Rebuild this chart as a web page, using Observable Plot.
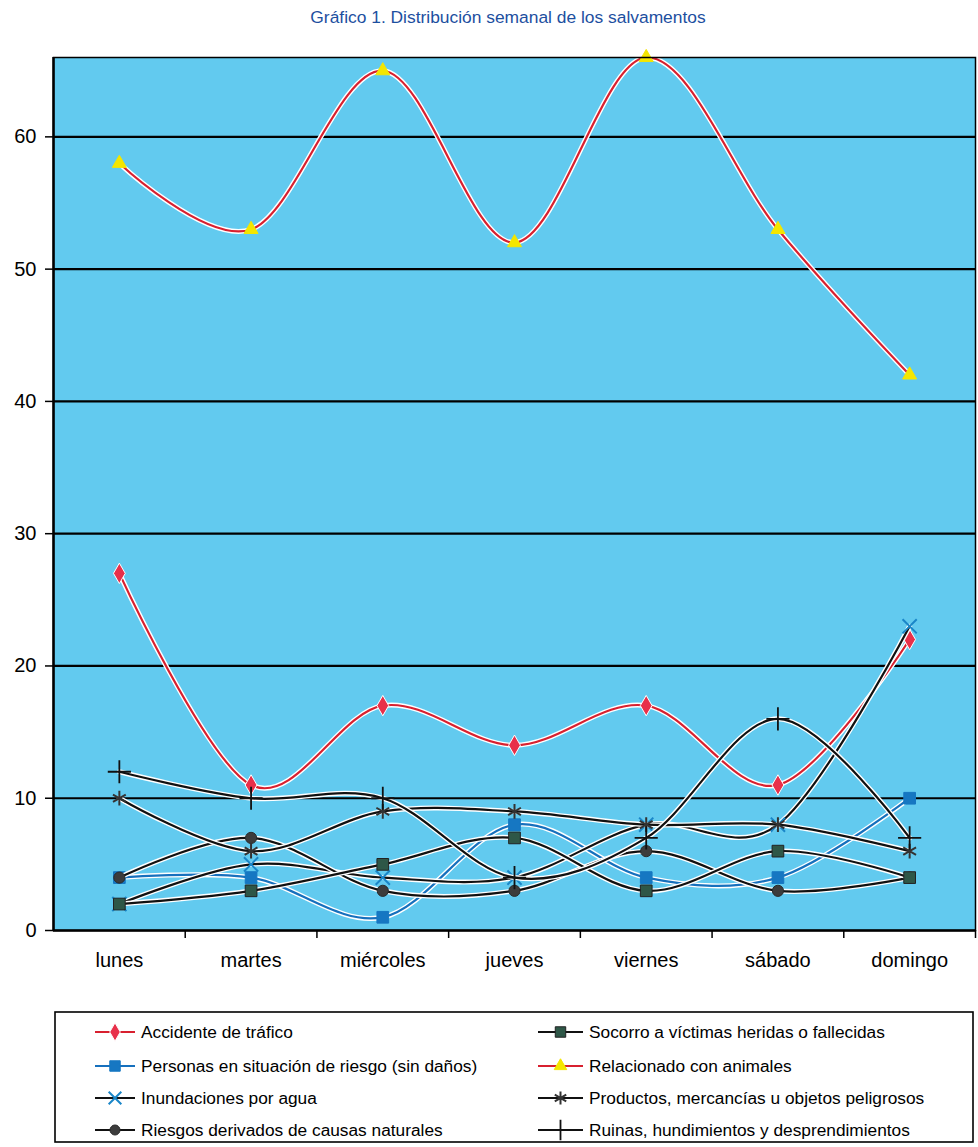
<!DOCTYPE html>
<html>
<head>
<meta charset="utf-8">
<script src="https://cdn.jsdelivr.net/npm/d3@7"></script>
<script src="https://cdn.jsdelivr.net/npm/@observablehq/plot@0.6"></script>
<style>
  html, body { margin: 0; padding: 0; background: #fff; }
  body { width: 978px; height: 1147px; overflow: hidden; font-family: "Liberation Sans", Arial, sans-serif; }
  #title { height: 35px; line-height: 34px; text-align: center; padding-left: 38px; box-sizing: border-box;
           font-family: "Liberation Sans Narrow", "Liberation Sans", Arial, sans-serif; font-size: 17.4px; color: #1d4f9f; }
  #chart svg { display: block; }
  #legend svg { display: block; }
</style>
</head>
<body>
<div id="title">Gráfico 1. Distribución semanal de los salvamentos</div>
<div id="chart"></div>
<div id="legend"></div>
<script>
// ---- data ----
const days = ["lunes", "martes", "miércoles", "jueves", "viernes", "sábado", "domingo"];
const accidente = [27, 11, 17, 14, 17, 11, 22];
const personas = [4, 4, 1, 8, 4, 4, 10];
const inundaciones = [2, 5, 4, 4, 8, 8, 23];
const naturales = [4, 7, 3, 3, 6, 3, 4];
const socorro = [2, 3, 5, 7, 3, 6, 4];
const animales = [58, 53, 65, 52, 66, 53, 42];
const productos = [10, 6, 9, 9, 8, 8, 6];
const ruinas = [12, 10, 10, 4, 7, 16, 7];
const yTicks = [0, 10, 20, 30, 40, 50, 60];
const seriesNames = [
  "Accidente de tráfico",
  "Personas en situación de riesgo (sin daños)",
  "Inundaciones por agua",
  "Riesgos derivados de causas naturales",
  "Socorro a víctimas heridas o fallecidas",
  "Relacionado con animales",
  "Productos, mercancías u objetos peligrosos",
  "Ruinas, hundimientos y desprendimientos"
];
const seriesValues = [accidente, personas, inundaciones, naturales, socorro, animales, productos, ruinas];

// ---- styles ----
const bg = "#62caef";
const styles = [
  {line: "#d8202f", symbol: "diamond", fill: "#e8304a", stroke: "#ffffff", r: 6.2, sw: 1},
  {line: "#1670bd", symbol: "square", fill: "#1677c2", stroke: "#1677c2", r: 6.6, sw: 1},
  {line: "#111111", symbol: "times", fill: "none", stroke: "#1a86c8", r: 6.5, sw: 2},
  {line: "#111111", symbol: "circle", fill: "#3c3c3c", stroke: "#2a2a2a", r: 5.6, sw: 1},
  {line: "#111111", symbol: "square", fill: "#2e5747", stroke: "#222", r: 6.6, sw: 1},
  {line: "#d8202f", symbol: "triangle", fill: "#f4e600", stroke: "#f4e600", r: 5.2, sw: 1},
  {line: "#111111", symbol: "asterisk", fill: "none", stroke: "#333333", r: 7, sw: 2},
  {line: "#111111", symbol: "plus", fill: "none", stroke: "#111111", r: 7.5, sw: 1.8}
];

const rows = seriesNames.map((name, s) => days.map((d, i) => ({series: name, i, day: d, value: seriesValues[s][i]})));
const curve = d3.curveCardinal.tension(0);

const marks = [
  Plot.frame({fill: bg}),
  Plot.gridY(yTicks.slice(1), {stroke: "#000", strokeOpacity: 1, strokeWidth: 2.2}),
  Plot.ruleY([0], {stroke: "#000", strokeWidth: 2.5}),
  Plot.axisY(yTicks, {tickSize: 8, tickPadding: 9, fontSize: 20, stroke: "#000", strokeWidth: 1.5, label: null}),
  Plot.axisX(days.map((d, i) => i + 0.5), {tickSize: 8, tickFormat: () => "", stroke: "#000", strokeWidth: 1.5, label: null}),
  Plot.axisX(days.map((d, i) => i), {tickSize: 0, tickPadding: 22, tickFormat: i => days[i], fontSize: 20, label: null})
];
rows.forEach((data, s) => {
  const st = styles[s];
  marks.push(Plot.line(data, {x: "i", y: "value", curve, stroke: "#ffffff", strokeWidth: 5, clip: true}));
  marks.push(Plot.line(data, {x: "i", y: "value", curve, stroke: st.line, strokeWidth: 2.2, clip: true}));
  marks.push(Plot.dot(data, {x: "i", y: "value", symbol: () => st.symbol, r: st.r, fill: st.fill, stroke: st.stroke, strokeWidth: st.sw}));
});
marks.push(Plot.frame({stroke: "#000", strokeWidth: 1.5}));
marks.push(Plot.ruleX([-0.5], {stroke: "#000", strokeWidth: 2.5}));

const chart = Plot.plot({
  width: 978,
  height: 965,
  marginLeft: 53,
  marginRight: 3,
  marginTop: 22,
  marginBottom: 70,
  style: {fontFamily: "'Liberation Sans', Arial, sans-serif", background: "#fff", color: "#000"},
  x: {domain: [-0.5, 6.5], axis: null},
  y: {domain: [0, 66], axis: null},
  marks
});
document.getElementById("chart").appendChild(chart);

// ---- legend ----
const lw = 978, lh = 147;
const svg = d3.select("#legend").append("svg").attr("width", lw).attr("height", lh)
  .style("font-family", "'Liberation Sans', Arial, sans-serif");
svg.append("rect").attr("x", 55).attr("y", 12).attr("width", 918).attr("height", 130)
  .attr("fill", "#fff").attr("stroke", "#000").attr("stroke-width", 1.6);
const symMap = {diamond: d3.symbolDiamond, square: d3.symbolSquare, times: d3.symbolTimes, circle: d3.symbolCircle,
                triangle: d3.symbolTriangle, asterisk: d3.symbolAsterisk, plus: d3.symbolPlus};
const rowY = [32, 66, 98, 130];
seriesNames.forEach((name, s) => {
  const st = styles[s];
  const col = s < 4 ? 0 : 1;
  const row = s % 4;
  const x0 = col === 0 ? 95 : 538;
  const len = col === 0 ? 40 : 45;
  const y = rowY[row];
  const g = svg.append("g").attr("transform", `translate(${x0},${y})`);
  g.append("line").attr("x1", 0).attr("x2", len).attr("y1", 0).attr("y2", 0).attr("stroke", st.line).attr("stroke-width", 2);
  g.append("path").attr("transform", `translate(${len / 2},0)`)
    .attr("d", d3.symbol(symMap[st.symbol], Math.PI * st.r * st.r * 0.8)())
    .attr("fill", st.fill).attr("stroke", st.stroke).attr("stroke-width", st.sw);
  g.append("text").attr("x", len + 6).attr("y", 0).attr("dy", "0.35em").attr("font-size", 17.3).attr("fill", "#000").text(name);
});
</script>
</body>
</html>
